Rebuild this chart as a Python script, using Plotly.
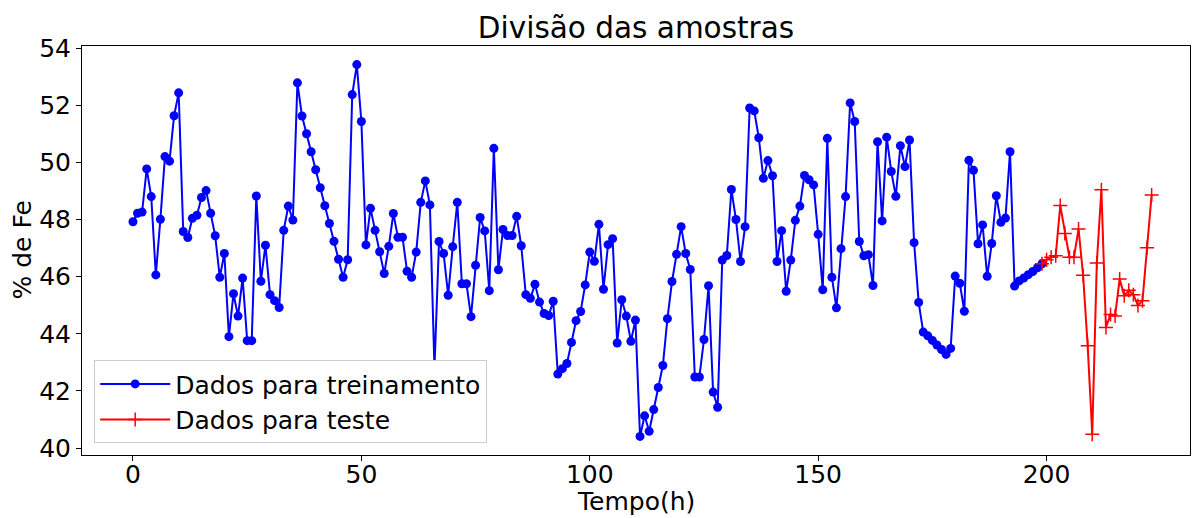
import plotly.graph_objects as go

train_y = [
    47.92, 48.22, 48.26, 49.77, 48.80, 46.06, 48.01, 50.20, 50.04, 51.63,
    52.43, 47.58, 47.37, 48.04, 48.15, 48.77, 49.01, 48.22, 47.43, 45.98,
    46.81, 43.90, 45.40, 44.62, 45.95, 43.76, 43.76, 48.82, 45.84, 47.10,
    45.37, 45.16, 44.92, 47.62, 48.47, 47.98, 52.78, 51.62, 51.00, 50.37,
    49.74, 49.11, 48.48, 47.86, 47.24, 46.61, 45.98, 46.59, 52.37, 53.42,
    51.43, 47.11, 48.39, 47.62, 46.87, 46.11, 47.06, 48.21, 47.38, 47.38,
    46.19, 45.98, 46.86, 48.60, 49.35, 48.51, 42.80, 47.23, 46.81, 45.35,
    47.05, 48.60, 45.75, 45.75, 44.60, 46.40, 48.07, 47.60, 45.51, 50.49,
    46.24, 47.65, 47.44, 47.44, 48.11, 47.08, 45.37, 45.24, 45.73, 45.11,
    44.71, 44.64, 45.14, 42.59, 42.78, 42.96, 43.70, 44.46, 44.78, 45.71,
    46.86, 46.54, 47.83, 45.56, 47.12, 47.33, 43.68, 45.19, 44.62, 43.74,
    44.48, 40.41, 41.13, 40.59, 41.35, 42.12, 42.89, 44.53, 45.83, 46.78,
    47.75, 46.81, 46.25, 42.49, 42.49, 43.80, 45.68, 41.96, 41.43, 46.58,
    46.74, 49.05, 48.00, 46.53, 47.75, 51.90, 51.80, 50.86, 49.44, 50.06,
    49.53, 46.53, 47.61, 45.49, 46.58, 47.97, 48.47, 49.54, 49.39, 49.21,
    47.48, 45.54, 50.84, 45.98, 44.91, 46.98, 48.80, 52.08, 51.43, 47.23,
    46.73, 46.77, 45.69, 50.72, 47.95, 50.88, 49.68, 48.81, 50.58, 49.85,
    50.78, 47.19, 45.10, 44.06, 43.93, 43.77, 43.61, 43.45, 43.28, 43.49,
    46.02, 45.77, 44.79, 50.07, 49.72, 47.15, 47.81, 46.01, 47.16, 48.83,
    47.90, 48.05, 50.37, 45.67, 45.85, 45.95, 46.07, 46.18, 46.31, 46.45,
]
train_x = list(range(len(train_y)))

test_y = [
    46.45, 46.59, 46.68, 46.73, 48.49, 47.51, 46.68, 46.68, 47.67, 46.05,
    43.58, 40.49, 46.48, 49.04, 44.22, 44.68, 44.62, 45.92, 45.33, 45.52,
    45.37, 44.99, 45.16, 47.01, 48.86,
]
test_start = len(train_y) - 1
test_x = list(range(test_start, test_start + len(test_y)))

title_text = "Divisão das amostras"
x_label = "Tempo(h)"
y_label = "% de Fe"
train_name = "Dados para treinamento"
test_name = "Dados para teste"

FONT = "DejaVu Sans"
FS = 25
W, H = 1202, 518
ML, MR, MT, MB = 82, 12, 46, 63
PW, PH = W - ML - MR, H - MT - MB

fig = go.Figure()
fig.add_trace(go.Scatter(
    x=train_x, y=train_y, mode="lines+markers", name=train_name,
    line=dict(color="#0000ff", width=2),
    marker=dict(symbol="circle", size=9, color="#0000ff"),
))
fig.add_trace(go.Scatter(
    x=test_x, y=test_y, mode="lines+markers", name=test_name,
    line=dict(color="#ff0000", width=2),
    marker=dict(symbol="cross-thin", size=10, color="#ff0000",
                line=dict(color="#ff0000", width=1.5)),
))

axis_common = dict(
    showline=True, mirror=True, linecolor="#000000", linewidth=1,
    ticks="outside", ticklen=5, tickwidth=1, tickcolor="#000000",
    showgrid=False, zeroline=False, automargin=False,
    tickfont=dict(family=FONT, size=FS, color="#000000"),
)

fig.update_layout(
    width=W, height=H,
    margin=dict(l=ML, r=MR, t=MT, b=MB),
    paper_bgcolor="white", plot_bgcolor="white",
    font=dict(family=FONT, color="#000000"),
    title=dict(text=title_text, x=0.5, xref="paper", xanchor="center",
               y=1 - 28 / H, yref="container", yanchor="middle",
               font=dict(family=FONT, size=29.5, color="#000000")),
    xaxis=dict(range=[-11.16, 231.4], tickvals=[0, 50, 100, 150, 200],
               ticklabelstandoff=-8, **axis_common),
    yaxis=dict(range=[39.76, 54.07], tickvals=[40, 42, 44, 46, 48, 50, 52, 54],
               **axis_common),
    legend=dict(x=0.011, y=0.029, xanchor="left", yanchor="bottom",
                bgcolor="white", bordercolor="#cccccc", borderwidth=1,
                font=dict(family=FONT, size=FS, color="#000000"),
                itemwidth=70, tracegroupgap=0),
    showlegend=True,
    annotations=[
        dict(text=x_label, xref="paper", yref="paper", x=0.5,
             y=-(501 - (MT + PH)) / PH, xanchor="center", yanchor="middle",
             showarrow=False, font=dict(family=FONT, size=FS, color="#000000")),
        dict(text=y_label, xref="paper", yref="paper", x=-(ML - 22) / PW,
             y=0.5, xanchor="center", yanchor="middle", textangle=-90,
             showarrow=False, font=dict(family=FONT, size=FS, color="#000000")),
    ],
)

fig.write_html("out.html")
